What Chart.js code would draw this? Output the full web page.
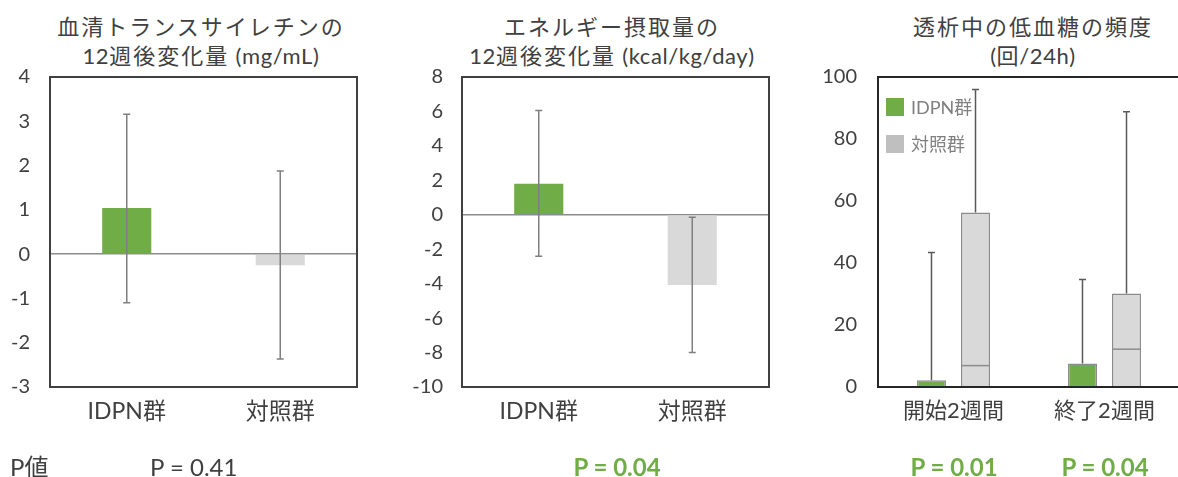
<!DOCTYPE html>
<html lang="ja">
<head>
<meta charset="utf-8">
<title>IDPN群と対照群の比較</title>
<script src="https://cdn.jsdelivr.net/npm/chart.js@4/dist/chart.umd.min.js"></script>
<style>
  html, body { margin: 0; padding: 0; background: #fff; }
  body {
    width: 1178px; height: 477px; overflow: hidden; position: relative;
    font-family: Lato, "Noto Sans CJK JP", sans-serif; color: #404040;
  }
  .title {
    position: absolute; top: 12px; transform: translateX(-50%);
    text-align: center; white-space: nowrap;
    font-size: 22px; line-height: 29px; font-weight: 400; color: #404040;
  }
  .title .jp { letter-spacing: 2px; }
  .title .en { letter-spacing: 0.6px; }
  .panel { position: absolute; top: 0; }
  .pval { position: absolute; top: 452px; font-size: 24px; line-height: 30px; white-space: nowrap; }
  .center { transform: translateX(-50%); }
  .sig { color: #70AD47; font-weight: 700; }
</style>
</head>
<body>

<div class="title" style="left:201px"><span class="jp">血清トランスサイレチンの</span><br><span class="en">12</span><span class="jp">週後変化量</span><span class="en"> (mg/mL)</span></div>
<div class="title" style="left:612px"><span class="jp">エネルギー摂取量の</span><br><span class="en">12</span><span class="jp">週後変化量</span><span class="en"> (kcal/kg/day)</span></div>
<div class="title" style="left:1033px"><span class="jp">透析中の低血糖の頻度</span><br><span class="en">(回/24h)</span></div>

<div class="panel" style="left:0px"><canvas id="ttr" width="370" height="477"></canvas></div>
<div class="panel" style="left:400px"><canvas id="energy" width="382" height="477"></canvas></div>
<div class="panel" style="left:800px"><canvas id="hypo" width="400" height="477"></canvas></div>

<div class="pval" style="left:10px">P値</div>
<div class="pval" style="left:150px">P = 0.41</div>
<div class="pval sig center" style="left:617px">P = 0.04</div>
<div class="pval sig center" style="left:954px">P = 0.01</div>
<div class="pval sig center" style="left:1105px">P = 0.04</div>

<script>
// ---- data ----
const groups = ['IDPN群', '対照群'];

// serum transthyretin, change after 12 weeks (mg/mL)
const ttrChange = [1.04, -0.25];
const ttrUpper  = [3.16, 1.88];
const ttrLower  = [-1.10, -2.37];

// energy intake, change after 12 weeks (kcal/kg/day)
const energyChange = [1.80, -4.08];
const energyUpper  = [6.06, -0.14];
const energyLower  = [-2.41, -8.00];

// hypoglycaemia during dialysis (times/24h)
const periods       = ['開始2週間', '終了2週間'];
const idpnQ3        = [2.2, 7.6];
const idpnMax       = [43.4, 34.7];
const controlQ3     = [56.3, 30.2];
const controlMedian = [6.9, 12.2];
const controlMax    = [96.0, 88.8];

// ---- styling ----
const GREEN = '#70AD47';
const LIGHT_GRAY = '#D9D9D9';
const TEXT = '#404040';
const FONT = 'Lato, "Noto Sans CJK JP", sans-serif';

Chart.defaults.font.family = FONT;
Chart.defaults.color = TEXT;
Chart.defaults.animation = false;

// box around the plotting area
const framePlugin = {
  id: 'frame',
  afterDatasetsDraw(chart, args, opts) {
    const { ctx, chartArea: a } = chart;
    ctx.save();
    ctx.strokeStyle = opts.color;
    ctx.lineWidth = opts.width;
    ctx.strokeRect(a.left, a.top, a.right - a.left, a.bottom - a.top);
    ctx.restore();
  }
};

// error bars for the single bar dataset
const errorBarPlugin = {
  id: 'errorBars',
  afterDatasetsDraw(chart, args, opts) {
    if (!opts.upper) return;
    const { ctx } = chart;
    const y = chart.scales.y;
    const meta = chart.getDatasetMeta(0);
    ctx.save();
    ctx.strokeStyle = opts.color;
    ctx.lineWidth = opts.width;
    meta.data.forEach((bar, i) => {
      const x = bar.x;
      const yHi = y.getPixelForValue(opts.upper[i]);
      const yLo = y.getPixelForValue(opts.lower[i]);
      ctx.beginPath();
      ctx.moveTo(x, yHi); ctx.lineTo(x, yLo);
      ctx.moveTo(x - opts.cap, yHi); ctx.lineTo(x + opts.cap, yHi);
      ctx.moveTo(x - opts.cap, yLo); ctx.lineTo(x + opts.cap, yLo);
      ctx.stroke();
    });
    ctx.restore();
  }
};

// median line and upper whisker on each box
const boxMarksPlugin = {
  id: 'boxMarks',
  afterDatasetsDraw(chart, args, opts) {
    if (!opts.enabled) return;
    const { ctx } = chart;
    const y = chart.scales.y;
    chart.data.datasets.forEach((ds, d) => {
      const meta = chart.getDatasetMeta(d);
      meta.data.forEach((bar, i) => {
        const half = bar.width / 2;
        ctx.save();
        if (ds.median) {
          const ym = y.getPixelForValue(ds.median[i]);
          ctx.strokeStyle = opts.medianColor;
          ctx.lineWidth = opts.medianWidth;
          ctx.beginPath();
          ctx.moveTo(bar.x - half, ym); ctx.lineTo(bar.x + half, ym);
          ctx.stroke();
        }
        const yTop = y.getPixelForValue(ds.whiskerMax[i]);
        ctx.strokeStyle = opts.whiskerColor;
        ctx.lineWidth = opts.whiskerWidth;
        ctx.beginPath();
        ctx.moveTo(bar.x, bar.y); ctx.lineTo(bar.x, yTop);
        ctx.moveTo(bar.x - opts.cap, yTop); ctx.lineTo(bar.x + opts.cap, yTop);
        ctx.stroke();
        ctx.restore();
      });
    });
  }
};

// legend placed inside the top-left corner of the plotting area
const insideLegendPlugin = {
  id: 'insideLegend',
  afterDraw(chart, args, opts) {
    if (!opts.enabled) return;
    const { ctx, chartArea: a } = chart;
    ctx.save();
    chart.data.datasets.forEach((ds, i) => {
      const x = a.left + opts.offsetX;
      const top = a.top + opts.offsetY + i * opts.rowGap;
      ctx.fillStyle = ds.legendColor || ds.backgroundColor;
      ctx.fillRect(x, top, opts.box, opts.box);
      ctx.fillStyle = opts.color;
      ctx.font = opts.font;
      ctx.textBaseline = 'middle';
      ctx.textAlign = 'left';
      ctx.fillText(ds.label, x + opts.box + opts.gap, top + opts.box / 2 + 1);
    });
    ctx.restore();
  }
};

Chart.register(framePlugin, errorBarPlugin, boxMarksPlugin, insideLegendPlugin);

function yAxis(min, max, step, width, pad, zeroLine) {
  return {
    min, max,
    ticks: { stepSize: step, padding: pad, color: TEXT, font: { size: 20 } },
    grid: {
      drawTicks: false,
      lineWidth: 1.5,
      color: c => (zeroLine && c.tick && c.tick.value === 0) ? '#8C8C8C' : 'rgba(0,0,0,0)'
    },
    border: { display: false },
    afterFit: s => { s.width = width; }
  };
}

function xAxis(fontSize) {
  return {
    grid: { display: false, drawTicks: false },
    border: { display: false },
    ticks: { padding: 11, color: TEXT, font: { size: fontSize } },
    afterFit: s => { s.height = 60; }
  };
}

function changeChart(id, values, upper, lower, yMin, yMax, yStep, axisWidth, tickPad) {
  return new Chart(document.getElementById(id), {
    type: 'bar',
    data: {
      labels: groups,
      datasets: [{
        data: values,
        backgroundColor: [GREEN, LIGHT_GRAY],
        borderWidth: 0,
        barPercentage: 0.32,
        categoryPercentage: 1.0
      }]
    },
    options: {
      responsive: false,
      layout: { padding: { top: 77, bottom: 30, left: 0, right: 13 } },
      scales: {
        x: xAxis(23),
        y: yAxis(yMin, yMax, yStep, axisWidth, tickPad, true)
      },
      plugins: {
        legend: { display: false },
        tooltip: { enabled: false },
        frame: { color: '#404040', width: 2 },
        errorBars: { upper, lower, color: '#7F7F7F', width: 1.5, cap: 3.5 }
      }
    }
  });
}

changeChart('ttr', ttrChange, ttrUpper, ttrLower, -3, 4, 1, 50, 20);
changeChart('energy', energyChange, energyUpper, energyLower, -10, 8, 2, 62, 19);

new Chart(document.getElementById('hypo'), {
  type: 'bar',
  data: {
    labels: periods,
    datasets: [
      {
        label: 'IDPN群',
        data: idpnQ3,
        whiskerMax: idpnMax,
        backgroundColor: GREEN,
        borderColor: '#8C8C8C',
        borderWidth: 1.5,
        categoryPercentage: 0.583,
        barPercentage: 0.66
      },
      {
        label: '対照群',
        data: controlQ3,
        median: controlMedian,
        whiskerMax: controlMax,
        backgroundColor: LIGHT_GRAY,
        legendColor: '#BFBFBF',
        borderColor: '#8C8C8C',
        borderWidth: 1.5,
        categoryPercentage: 0.583,
        barPercentage: 0.66
      }
    ]
  },
  options: {
    responsive: false,
    layout: { padding: { top: 77, bottom: 30, left: 0, right: 20 } },
    scales: {
      x: xAxis(22),
      y: yAxis(0, 100, 20, 78, 21, false)
    },
    plugins: {
      legend: { display: false },
      tooltip: { enabled: false },
      frame: { color: '#262626', width: 2 },
      boxMarks: {
        enabled: true,
        medianColor: '#8C8C8C', medianWidth: 1.5,
        whiskerColor: '#595959', whiskerWidth: 1.5, cap: 3.5
      },
      insideLegend: {
        enabled: true, offsetX: 8, offsetY: 21, rowGap: 37, box: 18, gap: 7,
        color: '#7F7F7F', font: '18px ' + FONT
      }
    }
  }
});
</script>
</body>
</html>
